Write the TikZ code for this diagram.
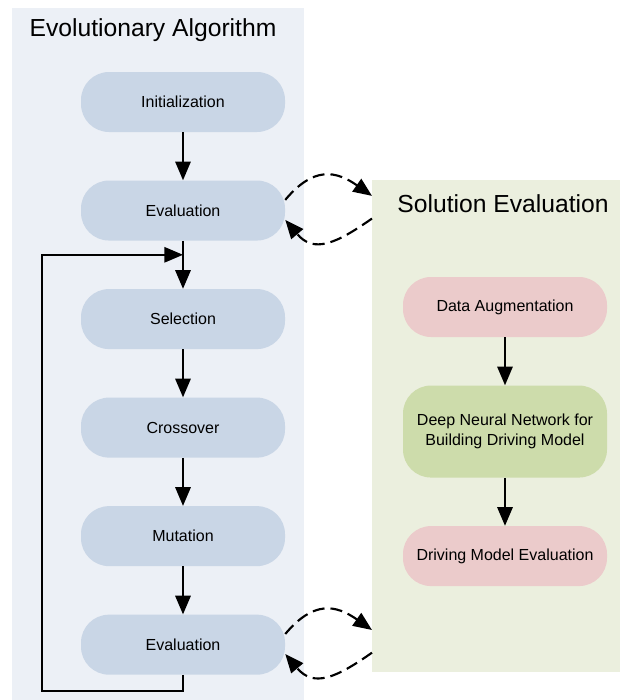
\documentclass[tikz,border=0pt]{standalone}
\usepackage{fontspec}
\setmainfont{Liberation Sans}
\usetikzlibrary{arrows.meta,positioning}
\definecolor{evobg}{HTML}{ECF0F6}
\definecolor{evobox}{HTML}{C9D6E6}
\definecolor{solbg}{HTML}{EBEFDE}
\definecolor{solpink}{HTML}{EBCBCB}
\definecolor{solgreen}{HTML}{CDDCAB}

\begin{document}
\begin{tikzpicture}[>={Triangle[length=14pt,width=11.5pt]},node distance=36pt,
    stage/.style={rounded corners=21pt,minimum width=153pt,minimum height=45pt,align=center,font=\fontsize{12}{15}\selectfont},
    panel/.style={inner sep=0pt,anchor=north west},
    heading/.style={font=\fontsize{18.5}{22}\selectfont},
    flow/.style={->,line width=1.5pt},
    link/.style={->,line width=1.6pt,dash pattern=on 9pt off 4.5pt}]
  \useasboundingbox (0,0) rectangle (465.75pt,-525pt);
  % the two panels
  \node[panel,fill=evobg,minimum width=219pt,minimum height=519pt] (evo) at (9pt,-6pt) {};
  \node[panel,fill=solbg,minimum width=186pt,minimum height=369pt] (sol) at (279pt,-135pt) {};
  \node[heading] (evotitle) at (114.75pt,-22.5pt) {Evolutionary Algorithm};
  \node[heading] (soltitle) at (377.25pt,-153pt) {Solution Evaluation};
  % evolutionary loop
  \node[stage,fill=evobox] (init) at (137.25pt,-76.5pt) {Initialization};
  \node[stage,fill=evobox,below=of init] (ev1) {Evaluation};
  \node[stage,fill=evobox,below=of ev1] (sel) {Selection};
  \node[stage,fill=evobox,below=of sel] (cross) {Crossover};
  \node[stage,fill=evobox,below=of cross] (mut) {Mutation};
  \node[stage,fill=evobox,below=of mut] (ev2) {Evaluation};
  % solution evaluation
  \node[stage,fill=solpink] (aug) at (378.75pt,-230.25pt) {Data Augmentation};
  \node[stage,fill=solgreen,minimum height=69pt,below=of aug] (dnn) {Deep Neural Network for\\Building Driving Model};
  \node[stage,fill=solpink,below=of dnn] (dme) {Driving Model Evaluation};
  \foreach \u/\vv in {init/ev1,ev1/sel,sel/cross,cross/mut,mut/ev2,aug/dnn,dnn/dme}{\draw[flow] (\u) -- (\vv);}
  \coordinate (join) at ([yshift=-10.5pt]ev1.south);
  \draw[flow] (ev2.south) -- ++(0,-12pt) -| ([xshift=-105.75pt]join) -- (join);
  % exchange with the evaluation panel
  \coordinate (s1) at (sol.west |- ev1.east);
  \coordinate (s2) at (sol.west |- ev2.east);
  \draw[link] ([yshift=8pt]ev1.east) to[out=50,in=145,looseness=1.3] ([yshift=11pt]s1);
  \draw[link] ([yshift=-6pt]s1) to[out=-145,in=-50,looseness=1.3] ([yshift=-7pt]ev1.east);
  \draw[link] ([yshift=8pt]ev2.east) to[out=50,in=145,looseness=1.3] ([yshift=11pt]s2);
  \draw[link] ([yshift=-6pt]s2) to[out=-145,in=-50,looseness=1.3] ([yshift=-7pt]ev2.east);
\end{tikzpicture}
\end{document}
